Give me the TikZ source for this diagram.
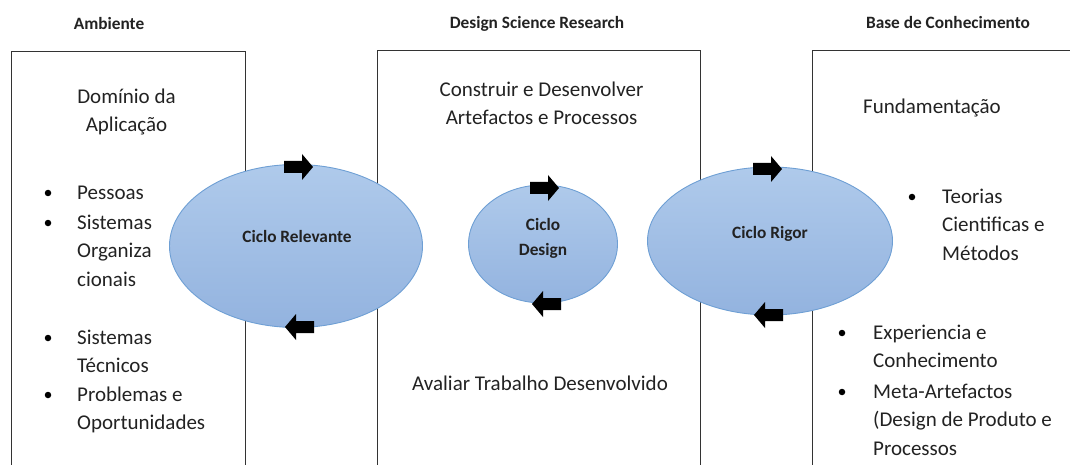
\documentclass[tikz,border=0pt]{standalone}
\usepackage{fontspec}
\setmainfont{Carlito}
\usetikzlibrary{shapes.geometric}

\definecolor{cyclefillA}{HTML}{AFCAEB}
\definecolor{cyclefillB}{HTML}{93B3DF}
\definecolor{cycleedge}{HTML}{6E9FD4}
\definecolor{ink}{HTML}{222222}
\definecolor{frame}{HTML}{333333}

\tikzset{
  panel/.style={draw=frame, line width=1.3pt, rectangle, inner sep=0pt, anchor=north west},
  cyclenode/.style={ellipse, draw=cycleedge, line width=0.9pt, top color=cyclefillA,
    bottom color=cyclefillB, inner sep=0pt},
  cyclelabel/.style={font=\fontsize{17.3}{25}\selectfont\bfseries, text=ink, align=center, inner sep=0pt},
  heading/.style={font=\fontsize{17.3}{20}\selectfont\bfseries, text=ink, inner sep=0pt, anchor=mid},
  body/.style={font=\fontsize{21}{28.5}\selectfont, text=ink, align=left, inner sep=0pt, anchor=north west},
  bodyc/.style={body, align=center, anchor=north},
  dot/.style={circle, fill=black, inner sep=0pt, minimum size=6.5pt},
  pics/fwdarrow/.style={code={
    \fill[black] (-15,-6) -- (3,-6) -- (3,-13) -- (14,0) -- (3,13) -- (3,6) -- (-15,6) -- cycle;}},
}

\begin{document}
\begin{tikzpicture}[x=1pt, y=-1pt]
  \useasboundingbox (0,0) rectangle (1070,465);
  \clip (0,0) rectangle (1070,465);

  % column headings
  \node[heading] (hamb) at (109,27) {Ambiente};
  \node[heading] (hdsr) at (537,26) {Design Science Research};
  \node[heading] (hbase) at (948,26) {Base de Conhecimento};

  % the three panels
  \node[panel, minimum width=234pt, minimum height=430pt] (env) at (11,51) {};
  \node[panel, minimum width=323pt, minimum height=430pt] (dsr) at (377,50) {};
  \node[panel, minimum width=300pt, minimum height=430pt] (kb) at (812,50) {};

  % Ambiente
  \node[bodyc] (dom) at (126.5,83) {\strut Domínio da\\Aplicação};
  \node[dot] (b1) at (48,193) {};
  \node[body] (i1) at (77,179) {\strut Pessoas};
  \node[dot] (b2) at (48,223) {};
  \node[body] (i2) at (77,209) {\strut Sistemas\\Organiza\\cionais};
  \node[dot] (b3) at (48,338) {};
  \node[body] (i3) at (77,324) {\strut Sistemas\\Técnicos};
  \node[dot] (b4) at (48,395) {};
  \node[body] (i4) at (77,381) {\strut Problemas e\\Oportunidades};

  % Design Science Research
  \node[bodyc] (build) at (541.5,76) {\strut Construir e Desenvolver\\Artefactos e Processos};
  \node[bodyc] (eval) at (540,370) {\strut Avaliar Trabalho Desenvolvido};

  % Base de Conhecimento
  \node[body] (fund) at (863,93) {\strut Fundamentação};
  \node[dot] (b5) at (912,197) {};
  \node[body] (i5) at (942,183) {\strut Teorias\\Cientificas e\\Métodos};
  \node[dot] (b6) at (842,333) {};
  \node[body] (i6) at (873,319) {\strut Experiencia e\\Conhecimento};
  \node[dot] (b7) at (842,392) {};
  \node[body] (i7) at (873,378) {\strut Meta-Artefactos\\(Design de Produto e\\Processos};

  % the three cycles
  \node[cyclenode, minimum width=253pt, minimum height=163pt] (crel) at (296,246) {};
  \node[cyclelabel] (lrel) at (297,236) {Ciclo Relevante};
  \node[cyclenode, minimum width=149pt, minimum height=118pt] (cdes) at (543,244) {};
  \node[cyclelabel] (ldes) at (543,238) {Ciclo\\Design};
  \node[cyclenode, minimum width=245pt, minimum height=148pt] (crig) at (770,241) {};
  \node[cyclelabel] (lrig) at (770,234) {Ciclo Rigor};

  % direction arrows on each cycle
  \pic (arel1) at (299,167) {fwdarrow};
  \pic[xscale=-1] (arel2) at (299,327) {fwdarrow};
  \pic (ades1) at (545,188) {fwdarrow};
  \pic[xscale=-1] (ades2) at (546,304) {fwdarrow};
  \pic (arig1) at (768,169) {fwdarrow};
  \pic[xscale=-1] (arig2) at (768,315) {fwdarrow};
\end{tikzpicture}
\end{document}
